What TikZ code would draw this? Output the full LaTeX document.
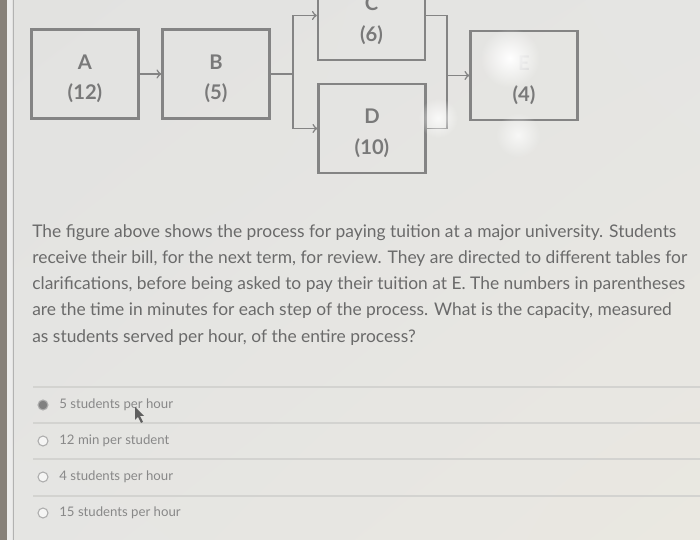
\documentclass[tikz,border=0pt]{standalone}
\usepackage{fontspec}
\setmainfont{Lato}
\usetikzlibrary{fadings,shadings}
\definecolor{screen}{HTML}{E5E5E3}
\definecolor{warm}{HTML}{EAE8E1}
\definecolor{ink}{HTML}{6A6A6A}
\definecolor{frame}{HTML}{848484}
\definecolor{rule}{HTML}{D3D3D0}
\tikzfading[name=glow, inner color=transparent!0, outer color=transparent!100]
\begin{document}
\begin{tikzpicture}[x=0.02cm,y=-0.02cm,
	stepbox/.style={draw=frame,line width=1.3pt,minimum width=2.14cm,minimum height=1.78cm},
	steptext/.style={align=center,text=ink!90,font=\fontsize{11.5}{17.5}\selectfont\bfseries,yshift=-2.8pt},
	flow/.style={draw=frame,line width=0.9pt},
	para/.style={anchor=west,text=ink,font=\fontsize{9.9}{12}\selectfont,inner sep=0pt},
	choice/.style={anchor=west,text=ink!80,font=\fontsize{7.5}{9}\selectfont,inner sep=0pt},
	radio/.style={draw=ink!55,line width=0.6pt,fill=white!60!screen}]
	\useasboundingbox (0,0) rectangle (700,543);
	\clip (0,0) rectangle (700,543);
	% screen
	\shade[upper left=screen!97!gray,upper right=screen,lower left=screen,lower right=warm] (0,0) rectangle (700,543);
	\fill[gray!90!brown] (0,0) rectangle (7,543);
	\fill[white!85!gray] (7,0) rectangle (12,543);
	\draw[gray!60,line width=0.5pt] (13,0) -- (13,543);
	\fill[white] (0,540) rectangle (700,543);
	% process flow
	\node[stepbox,label={[steptext]center:A\\(12)}] (A) at (85,74) {};
	\node[stepbox,label={[steptext]center:B\\(5)}] (B) at (216,74) {};
	\node[stepbox,label={[steptext]center:C\\(6)}] (C) at (371.5,15.5) {};
	\node[stepbox,label={[steptext]center:D\\(10)}] (D) at (372,128.5) {};
	\node[stepbox,label={[steptext]center:\textcolor{white!70!ink}{E}\\(4)}] (E) at (524,75.5) {};
	\coordinate (split) at (293,74);
	\coordinate (join) at (447,75.5);
	\draw[flow,->] (A) -- (B);
	\draw[flow] (B) -- (split);
	\draw[flow,->] (split) |- (C);
	\draw[flow,->] (split) |- (D);
	\draw[flow] (C) -| (join);
	\draw[flow] (D) -| (join);
	\draw[flow,->] (join) -- (E);
	% glare on the screen
	\fill[white,path fading=glow] (510,58) circle (0.6cm);
	\fill[white,path fading=glow,opacity=0.8] (438,118) circle (0.4cm);
	\fill[white,path fading=glow,opacity=0.7] (518,135) circle (0.45cm);
	% question
	\node[para] (l1) at (32,233) {The figure above shows the process for paying tuition at a major university. Students};
	\node[para] (l2) at (32,259) {receive their bill, for the next term, for review. They are directed to different tables for};
	\node[para] (l3) at (32,285) {clarifications, before being asked to pay their tuition at E. The numbers in parentheses};
	\node[para] (l4) at (32,311) {are the time in minutes for each step of the process. What is the capacity, measured};
	\node[para] (l5) at (32,338) {as students served per hour, of the entire process?};
	% answers
	\foreach \y in {387,423,459,496}
		\draw[rule,line width=0.6pt] (33,\y) -- (700,\y);
	\draw[radio,fill=ink!85] (43,405) circle (0.1cm);
	\draw[radio] (43,441) circle (0.1cm);
	\draw[radio] (43,477) circle (0.1cm);
	\draw[radio] (43,513) circle (0.1cm);
	\node[choice] (o1) at (59,405) {5 students per hour};
	\node[choice] (o2) at (59,441) {12 min per student};
	\node[choice] (o3) at (59,477) {4 students per hour};
	\node[choice] (o4) at (59,513) {15 students per hour};
	% mouse pointer
	\fill[ink!90!black] (135,407) -- (135,420) -- (138,417) -- (141,423) -- (143,422) -- (140,416) -- (144,416) -- cycle;
\end{tikzpicture}
\end{document}
